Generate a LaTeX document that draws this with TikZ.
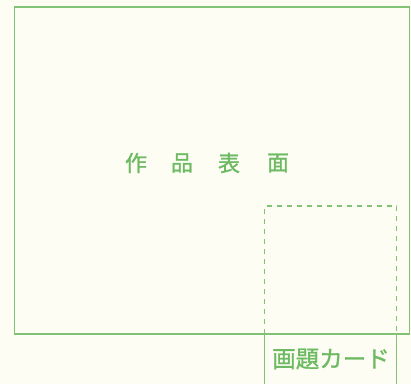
\documentclass[tikz,border=0pt]{standalone}
\usepackage{fontspec}
\newfontfamily\jpfont[FakeBold=1.2]{Noto Sans CJK JP}
\definecolor{bgc}{HTML}{FDFDF4}
\definecolor{grn}{HTML}{6DBA62}
\definecolor{grnl}{HTML}{80C374}
\begin{document}
\begin{tikzpicture}[x=1pt,y=1pt,
  frame/.style={draw=grnl, line width=1.3pt},
  dashline/.style={draw=grnl, line width=1.1pt, dash pattern=on 5pt off 5pt},
  lbl/.style={text=grn, font=\jpfont\fontsize{22}{22}\selectfont, inner sep=0pt},
  cardlbl/.style={lbl, font=\jpfont\fontsize{23.5}{23.5}\selectfont}]
\fill[bgc] (0,0) rectangle (411,384);
\useasboundingbox (0,0) rectangle (411,384);
% outer frame
\coordinate (tl) at (14.5,377);
\coordinate (br) at (409.5,50);
\draw[frame] (tl) rectangle (br);
% card
\coordinate (ctl) at (264.5,178);
\coordinate (ctr) at (396.5,178);
\coordinate (cbl) at (264.5,50);
\coordinate (cbr) at (396.5,50);
\coordinate (cbl2) at (264.5,0);
\coordinate (cbr2) at (396.5,0);
\draw[dashline] (cbl) -- (ctl) -- (ctr) -- (cbr);
\draw[frame] (cbl) -- (cbl2);
\draw[frame] (cbr) -- (cbr2);
% title
\node[lbl] (t1) at (136,221) {作};
\node[lbl] (t2) at (182,221) {品};
\node[lbl] (t3) at (229,221) {表};
\node[lbl] (t4) at (278,221) {面};
\node[cardlbl] (card) at (331,25) {画題カード};
\end{tikzpicture}
\end{document}
